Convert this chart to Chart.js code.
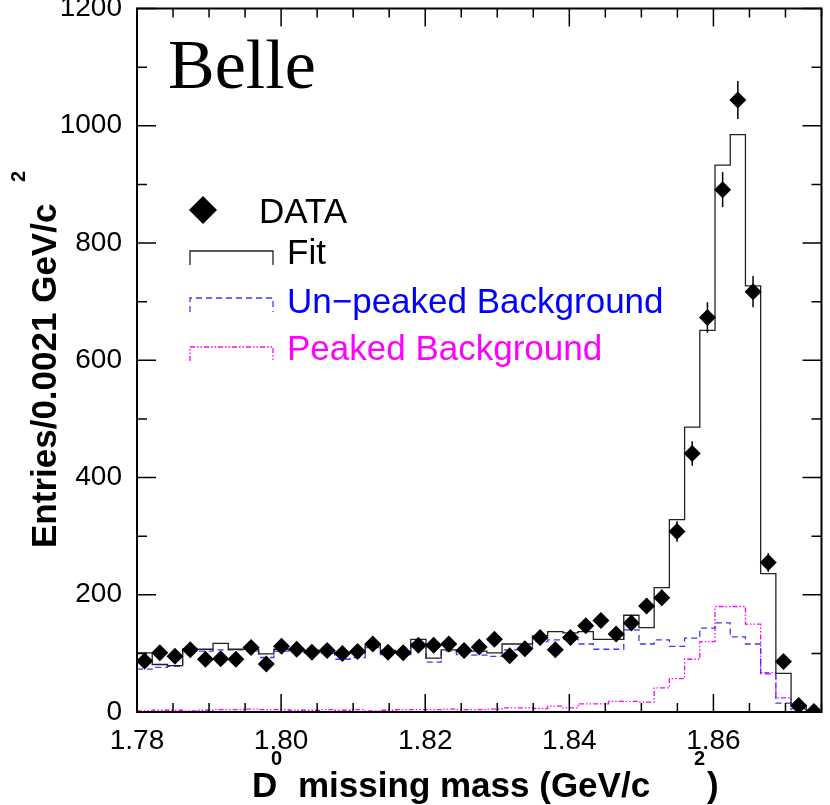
<!DOCTYPE html>
<html>
<head>
<meta charset="utf-8">
<script src="https://cdn.jsdelivr.net/npm/chart.js@4.4.0/dist/chart.umd.min.js"></script>
<style>
  html, body { margin: 0; padding: 0; background: #fff; }
  #wrap { width: 830px; height: 805px; }
</style>
</head>
<body>
<div id="wrap"><canvas id="massChart" width="830" height="805"></canvas></div>
<script>
// --- histogram range (GeV/c^2) ---
const xMin = 1.78;
const xMax = 1.875;
const nBins = 45;
const xTickLabels = [1.78, 1.80, 1.82, 1.84, 1.86];
const yTickLabels = [0, 200, 400, 600, 800, 1000, 1200];

// entries per bin
const dataCounts = [87, 101, 95, 106, 90, 91, 90, 110, 82, 112, 107, 102, 105, 100, 103, 116, 102, 101, 114, 114, 116, 105,
    111, 124, 96, 108, 127, 106, 127, 147, 156, 133, 152, 181, 195, 308, 441, 673, 891, 1044, 717, 255, 86, 11, 1];
const fitValues = [101, 81, 79, 107, 107, 117, 107, 107, 99, 107, 106, 105, 104, 101, 101, 114, 105, 103, 124, 92, 106, 104,
    104, 101, 116, 116, 130, 137, 135, 137, 124, 124, 165, 144, 212, 328, 486, 651, 933, 985, 727, 236, 66, 10, 0];
const unpeakedBkg = [73, 76, 78, 104, 104, 106, 106, 104, 93, 104, 103, 101, 100, 90, 93, 110, 98, 98, 117, 85, 104, 98,
    97, 95, 106, 106, 120, 123, 124, 116, 107, 107, 140, 116, 123, 112, 126, 143, 152, 128, 116, 65, 15, 6, 0];
const peakedBkg = [2, 3, 3, 2, 3, 4, 4, 5, 4, 4, 3, 3, 4, 3, 4, 2, 3, 4, 4, 4, 5, 4,
    4, 5, 7, 7, 6, 10, 7, 14, 14, 18, 18, 17, 41, 57, 90, 120, 180, 180, 150, 67, 24, 4, 0];

const binW = (xMax - xMin) / nBins;

// histogram outline: left edge of every bin + closing right edge
function histPoints(vals) {
    const pts = vals.map((v, i) => ({ x: xMin + i * binW, y: v }));
    pts.push({ x: xMax, y: vals[vals.length - 1] });
    return pts;
}
const dataPoints = dataCounts.map((v, i) => ({ x: xMin + (i + 0.5) * binW, y: v }));

const FONT = '"Liberation Sans", Arial, sans-serif';

// ROOT-like frame, inward ticks, error bars, legend and titles
const rootStyle = {
    id: 'rootStyle',
    afterDatasetsDraw(chart) {
        const { ctx, chartArea: a, scales: { x, y } } = chart;
        ctx.save();

        // error bars (sqrt N)
        ctx.strokeStyle = '#000';
        ctx.lineWidth = 1.5;
        dataPoints.forEach(p => {
            const e = Math.sqrt(p.y);
            const px = x.getPixelForValue(p.x);
            ctx.beginPath();
            ctx.moveTo(px, y.getPixelForValue(p.y + e));
            ctx.lineTo(px, y.getPixelForValue(Math.max(0, p.y - e)));
            ctx.stroke();
        });

        // frame
        ctx.lineWidth = 2;
        ctx.strokeRect(a.left, a.top, a.right - a.left, a.bottom - a.top);

        // y ticks, every 100, both sides
        ctx.lineWidth = 1.5;
        for (let v = 0; v <= 1200; v += 100) {
            const py = y.getPixelForValue(v);
            const len = v % 200 === 0 ? 19 : 10;
            ctx.beginPath();
            ctx.moveTo(a.left, py); ctx.lineTo(a.left + len, py);
            ctx.moveTo(a.right, py); ctx.lineTo(a.right - len, py);
            ctx.stroke();
        }
        // x ticks, every 0.005, top and bottom
        for (let k = 0; k <= 19; k++) {
            const px = x.getPixelForValue(xMin + k * 0.005);
            const len = k % 4 === 0 ? 18 : 9;
            ctx.beginPath();
            ctx.moveTo(px, a.bottom); ctx.lineTo(px, a.bottom - len);
            ctx.moveTo(px, a.top); ctx.lineTo(px, a.top + len);
            ctx.stroke();
        }

        // Belle
        ctx.fillStyle = '#000';
        ctx.textAlign = 'left';
        ctx.textBaseline = 'alphabetic';
        ctx.font = '70px "Liberation Serif", "Times New Roman", serif';
        ctx.fillText('Belle', 168, 88);

        // legend
        ctx.beginPath();
        ctx.moveTo(203, 196); ctx.lineTo(217, 210); ctx.lineTo(203, 224); ctx.lineTo(189, 210);
        ctx.closePath();
        ctx.fill();
        ctx.font = '35px ' + FONT;
        ctx.fillText('DATA', 259, 223);

        const legLine = (top, color, dash, label, ty) => {
            ctx.save();
            ctx.strokeStyle = color;
            ctx.lineWidth = 1.3;
            ctx.setLineDash(dash);
            ctx.beginPath();
            ctx.moveTo(190, top + 14); ctx.lineTo(190, top);
            ctx.lineTo(273, top); ctx.lineTo(273, top + 14);
            ctx.stroke();
            ctx.restore();
            ctx.fillStyle = label.color;
            ctx.fillText(label.text, 287, ty);
        };
        legLine(251, '#222', [], { text: 'Fit', color: '#000' }, 264);
        legLine(298, '#3838ff', [6, 4], { text: 'Un\u2212peaked Background', color: '#0000ff' }, 313);
        legLine(347, '#ff00ff', [5, 2, 1.5, 2, 1.5, 2], { text: 'Peaked Background', color: '#ff00ff' }, 360);

        // x title
        ctx.fillStyle = '#000';
        ctx.font = 'bold 35px ' + FONT;
        ctx.fillText('D', 252, 797);
        ctx.fillText('missing mass (GeV/c', 298, 797);
        ctx.fillText(')', 707, 797);
        ctx.font = 'bold 20px ' + FONT;
        ctx.fillText('0', 271, 765);
        ctx.fillText('2', 694, 765);

        // y title (rotated)
        ctx.translate(56, 548);
        ctx.rotate(-Math.PI / 2);
        ctx.font = 'bold 35px ' + FONT;
        ctx.fillText('Entries/0.0021 GeV/c', 0, 0);
        ctx.font = 'bold 20px ' + FONT;
        ctx.fillText('2', 366, -31);

        ctx.restore();
    }
};

new Chart(document.getElementById('massChart').getContext('2d'), {
    data: {
        datasets: [{
            type: 'scatter',
            label: 'DATA',
            data: dataPoints,
            pointStyle: 'rectRot',
            pointRadius: 8.5,
            backgroundColor: '#000',
            borderColor: '#000',
            borderWidth: 0,
            order: 0
        }, {
            type: 'line',
            label: 'Fit',
            data: histPoints(fitValues),
            stepped: 'before',
            borderColor: '#222',
            borderWidth: 1.3,
            pointRadius: 0,
            fill: false,
            order: 1
        }, {
            type: 'line',
            label: 'Un-peaked Background',
            data: histPoints(unpeakedBkg),
            stepped: 'before',
            borderColor: '#3838ff',
            borderWidth: 1.3,
            borderDash: [6, 4],
            pointRadius: 0,
            fill: false,
            order: 2
        }, {
            type: 'line',
            label: 'Peaked Background',
            data: histPoints(peakedBkg),
            stepped: 'before',
            borderColor: '#ff00ff',
            borderWidth: 1.3,
            borderDash: [5, 2, 1.5, 2, 1.5, 2],
            pointRadius: 0,
            fill: false,
            order: 3
        }]
    },
    options: {
        responsive: false,
        animation: false,
        layout: { padding: { top: 8, right: 2, left: 0, bottom: 0 } },
        scales: {
            x: {
                type: 'linear',
                min: xMin,
                max: xMax,
                afterBuildTicks: s => { s.ticks = xTickLabels.map(v => ({ value: v })); },
                afterFit: s => { s.height = 93; s.paddingLeft = 0; s.paddingRight = 0; },
                ticks: {
                    callback: v => v.toFixed(2),
                    font: { family: FONT, size: 28 },
                    color: '#000',
                    padding: 12,
                    maxRotation: 0,
                    autoSkip: false
                },
                grid: { display: false, drawTicks: false },
                border: { display: false }
            },
            y: {
                type: 'linear',
                min: 0,
                max: 1200,
                afterBuildTicks: s => { s.ticks = yTickLabels.map(v => ({ value: v })); },
                afterFit: s => { s.width = 137; s.paddingTop = 0; s.paddingBottom = 0; },
                ticks: {
                    callback: v => String(v),
                    font: { family: FONT, size: 28 },
                    color: '#000',
                    padding: 15
                },
                grid: { display: false, drawTicks: false },
                border: { display: false }
            }
        },
        plugins: {
            legend: { display: false },
            tooltip: { enabled: false }
        }
    },
    plugins: [rootStyle]
});
</script>
</body>
</html>
